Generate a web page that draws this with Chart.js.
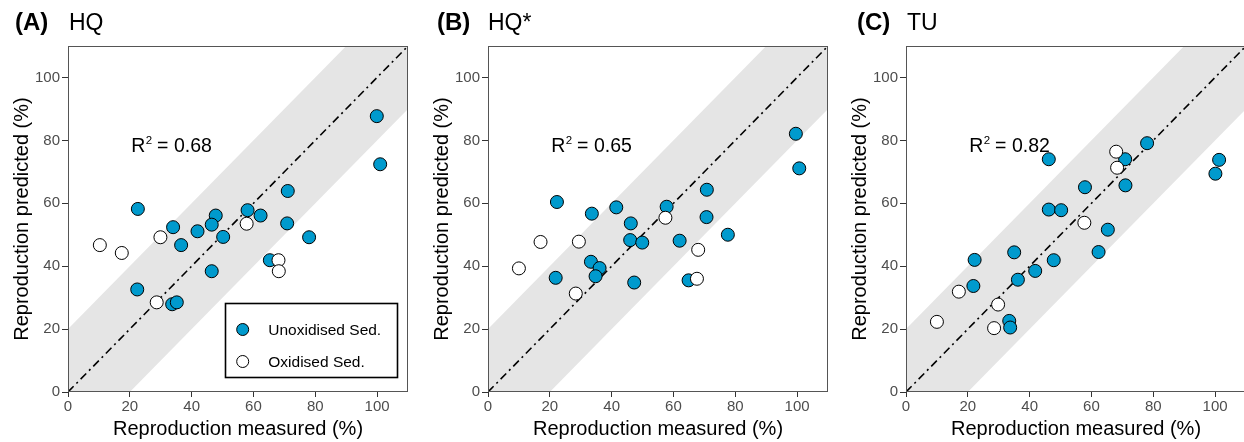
<!DOCTYPE html>
<html>
<head>
<meta charset="utf-8">
<script src="https://cdn.jsdelivr.net/npm/chart.js@4.4.1/dist/chart.umd.min.js"></script>
<style>
  html, body { margin: 0; padding: 0; background: #fff; overflow: hidden; width: 1244px; height: 442px; }
  .panel { position: absolute; top: 0; width: 420px; height: 442px; }
  .panel canvas { position: absolute; left: 0; top: 0; }
  .tag { position: absolute; top: 10px; font-family: "Liberation Sans", Arial, Helvetica, sans-serif; font-weight: bold; font-size: 24px; line-height: 1; white-space: nowrap; color: #000; }
  .name { position: absolute; top: 11px; font-family: "Liberation Sans", Arial, Helvetica, sans-serif; font-size: 23px; line-height: 1; white-space: nowrap; color: #000; }
</style>
</head>
<body>
<div class="panel" id="pA" style="left:0px;">
  <canvas id="cA" width="420" height="442"></canvas>
  <div class="tag" style="left:15px;">(A)</div><div class="name" style="left:69px;">HQ</div>
</div>
<div class="panel" id="pB" style="left:420px;">
  <canvas id="cB" width="420" height="442"></canvas>
  <div class="tag" style="left:17px;">(B)</div><div class="name" style="left:68px;">HQ*</div>
</div>
<div class="panel" id="pC" style="left:838px;">
  <canvas id="cC" width="420" height="442"></canvas>
  <div class="tag" style="left:19px;">(C)</div><div class="name" style="left:69px;">TU</div>
</div>
<script>
// ---------------- data ----------------
const axisTicks = [0, 20, 40, 60, 80, 100];
const axisMax = 110;
const bandHalfWidth = 20;
const identityLine = [0, 110];
const seriesLabels = ['Unoxidised Sed.', 'Oxidised Sed.'];
const r2Values = ['0.68', '0.65', '0.82'];

// (A) HQ
const hqUnoxMeasured  = [99.9, 101.0, 71.1, 22.6, 58.1, 62.3, 47.8, 34.0, 46.5, 70.9, 41.9, 50.2, 78.0, 36.6, 65.3, 46.5, 22.4, 33.7, 35.2];
const hqUnoxPredicted = [87.7, 72.4, 63.9, 58.2, 57.8, 56.1, 56.1, 52.4, 53.2, 53.6, 51.1, 49.3, 49.2, 46.7, 41.9, 38.4, 32.6, 27.9, 28.5];
const hqOxMeasured    = [10.3, 17.4, 29.9, 57.8, 68.1, 68.2, 28.7];
const hqOxPredicted   = [46.7, 44.2, 49.2, 53.5, 41.9, 38.4, 28.5];

// (B) HQ*
const hqsUnoxMeasured  = [99.6, 100.7, 70.8, 22.3, 57.8, 41.5, 33.6, 46.2, 70.7, 46.0, 49.9, 62.0, 77.6, 33.3, 36.1, 34.8, 21.9, 47.3, 64.9];
const hqsUnoxPredicted = [82.1, 71.1, 64.3, 60.4, 58.9, 58.7, 56.7, 53.6, 55.6, 48.3, 47.5, 48.1, 50.0, 41.4, 39.4, 36.8, 36.3, 34.8, 35.5];
const hqsOxMeasured    = [10.0, 17.0, 29.4, 57.4, 68.0, 67.6, 28.4];
const hqsOxPredicted   = [39.3, 47.7, 47.8, 55.4, 45.2, 36.0, 31.3];

// (C) TU
const tuUnoxMeasured  = [78.0, 46.2, 70.9, 101.3, 100.1, 57.9, 71.0, 46.2, 50.2, 65.3, 62.3, 35.0, 22.2, 47.8, 41.8, 36.2, 21.8, 33.4, 33.7];
const tuUnoxPredicted = [79.1, 74.0, 74.0, 73.8, 69.4, 65.1, 65.7, 58.0, 57.8, 51.6, 44.5, 44.4, 42.0, 41.9, 38.5, 35.7, 33.7, 22.6, 20.5];
const tuOxMeasured    = [68.0, 68.3, 57.7, 17.1, 29.8, 10.0, 28.5];
const tuOxPredicted   = [76.4, 71.3, 53.8, 31.9, 27.8, 22.3, 20.3];

// ---------------- styling ----------------
const FONT = '"Liberation Sans", Arial, Helvetica, sans-serif';
const BLUE = '#009ACD';
const BAND = '#E5E5E5';

const pairs = (xs, ys) => xs.map((x, i) => ({ x: x, y: ys[i] }));

function scaleCfg(title, isX) {
  return {
    type: 'linear',
    min: 0,
    max: axisMax,
    afterBuildTicks: s => { s.ticks = axisTicks.map(v => ({ value: v })); },
    afterFit: s => { if (isX) s.height = 50; else s.width = 68; },
    grid: { display: true, drawOnChartArea: false, drawTicks: true, tickLength: isX ? 5 : 6, color: '#333', lineWidth: 1 },
    border: { display: false },
    ticks: { color: '#4d4d4d', font: { family: FONT, size: 15 }, padding: isX ? 1 : 2, autoSkip: false, maxRotation: 0 },
    title: {
      display: true, text: title, color: '#000',
      font: { family: FONT, size: 20, lineHeight: 1 },
      padding: isX ? { top: 0, bottom: 3 } : { top: 12.5, bottom: 0 }
    }
  };
}

const framePlugin = {
  id: 'frame',
  afterDatasetsDraw(chart) {
    const { ctx, chartArea: a } = chart;
    ctx.save();
    ctx.strokeStyle = '#555';
    ctx.lineWidth = 1;
    ctx.strokeRect(Math.round(a.left) + 0.5, Math.round(a.top) + 0.5, Math.round(a.right - a.left) - 1, Math.round(a.bottom - a.top) - 1);
    ctx.restore();
  }
};

const r2Plugin = {
  id: 'r2label',
  afterDatasetsDraw(chart, args, opts) {
    if (!opts || !opts.value) return;
    const { ctx, scales } = chart;
    const cx = scales.x.getPixelForValue(opts.x);
    const base = scales.y.getPixelForValue(opts.y);
    ctx.save();
    ctx.fillStyle = '#000';
    ctx.textBaseline = 'alphabetic';
    ctx.textAlign = 'left';
    const big = '19.5px ' + FONT, small = '11.5px ' + FONT;
    ctx.font = big; const wR = ctx.measureText('R').width;
    ctx.font = small; const w2 = ctx.measureText('2').width;
    ctx.font = big; const rest = ' = ' + opts.value; const wRest = ctx.measureText(rest).width;
    let x = cx - (wR + w2 + wRest) / 2;
    ctx.font = big; ctx.fillText('R', x, base); x += wR;
    ctx.font = small; ctx.fillText('2', x + 0.5, base - 8.5); x += w2;
    ctx.font = big; ctx.fillText(rest, x, base);
    ctx.restore();
  }
};

const legendPlugin = {
  id: 'boxlegend',
  afterDatasetsDraw(chart, args, opts) {
    if (!opts || !opts.show) return;
    const { ctx, chartArea: a } = chart;
    const w = 172, h = 74;
    const x0 = Math.round(a.right - 10.7 - w), y0 = Math.round(a.bottom - 15.3 - h);
    ctx.save();
    ctx.fillStyle = '#fff';
    ctx.fillRect(x0, y0, w, h);
    ctx.strokeStyle = '#000';
    ctx.lineWidth = 1.6;
    ctx.strokeRect(x0 + 0.5, y0 + 0.5, w, h);
    const items = chart.data.datasets.filter(d => d.inLegend).sort((p, q) => p.legendRank - q.legendRank);
    items.forEach((d, i) => {
      const cy = y0 + 26.5 + i * 32;
      ctx.beginPath();
      ctx.arc(x0 + 17.7, cy, 6, 0, Math.PI * 2);
      ctx.fillStyle = d.backgroundColor;
      ctx.fill();
      ctx.lineWidth = 1;
      ctx.strokeStyle = '#000';
      ctx.stroke();
      ctx.fillStyle = '#000';
      ctx.font = '15.5px ' + FONT;
      ctx.textBaseline = 'middle';
      ctx.textAlign = 'left';
      ctx.fillText(d.label, x0 + 43.3, cy + 1);
    });
    ctx.restore();
  }
};

function makePanel(canvasId, unoxX, unoxY, oxX, oxY, r2, showLegend) {
  const ctx = document.getElementById(canvasId);
  return new Chart(ctx, {
    type: 'scatter',
    data: {
      datasets: [
        {
          label: seriesLabels[1], data: pairs(oxX, oxY), order: 0,
          backgroundColor: '#FFFFFF', borderColor: '#000', borderWidth: 1,
          pointRadius: 6.5, pointHoverRadius: 6.5, inLegend: true, legendRank: 1
        },
        {
          label: seriesLabels[0], data: pairs(unoxX, unoxY), order: 1,
          backgroundColor: BLUE, borderColor: '#000', borderWidth: 1,
          pointRadius: 6.5, pointHoverRadius: 6.5, inLegend: true, legendRank: 0
        },
        {
          label: '1:1', data: identityLine.map(v => ({ x: v, y: v })), order: 2,
          showLine: true, pointRadius: 0, borderColor: '#000', borderWidth: 1.6,
          borderDash: [8, 4, 2, 4], fill: false
        },
        {
          label: 'band upper', data: identityLine.map(v => ({ x: v, y: v + bandHalfWidth })), order: 3,
          showLine: true, pointRadius: 0, borderWidth: 0, borderColor: 'rgba(0,0,0,0)',
          backgroundColor: BAND, fill: '+1'
        },
        {
          label: 'band lower', data: identityLine.map(v => ({ x: v, y: v - bandHalfWidth })), order: 4,
          showLine: true, pointRadius: 0, borderWidth: 0, borderColor: 'rgba(0,0,0,0)',
          fill: false
        }
      ]
    },
    options: {
      responsive: false,
      devicePixelRatio: 1,
      animation: false,
      layout: { padding: { top: 46, right: 12, left: 0, bottom: 0 } },
      scales: {
        x: scaleCfg('Reproduction measured (%)', true),
        y: scaleCfg('Reproduction predicted (%)', false)
      },
      plugins: {
        legend: { display: false },
        tooltip: { enabled: false },
        r2label: { value: r2, x: 33.5, y: 76.3 },
        boxlegend: { show: showLegend }
      }
    },
    plugins: [framePlugin, r2Plugin, legendPlugin]
  });
}

makePanel('cA', hqUnoxMeasured, hqUnoxPredicted, hqOxMeasured, hqOxPredicted, r2Values[0], true);
makePanel('cB', hqsUnoxMeasured, hqsUnoxPredicted, hqsOxMeasured, hqsOxPredicted, r2Values[1], false);
makePanel('cC', tuUnoxMeasured, tuUnoxPredicted, tuOxMeasured, tuOxPredicted, r2Values[2], false);
</script>
</body>
</html>
